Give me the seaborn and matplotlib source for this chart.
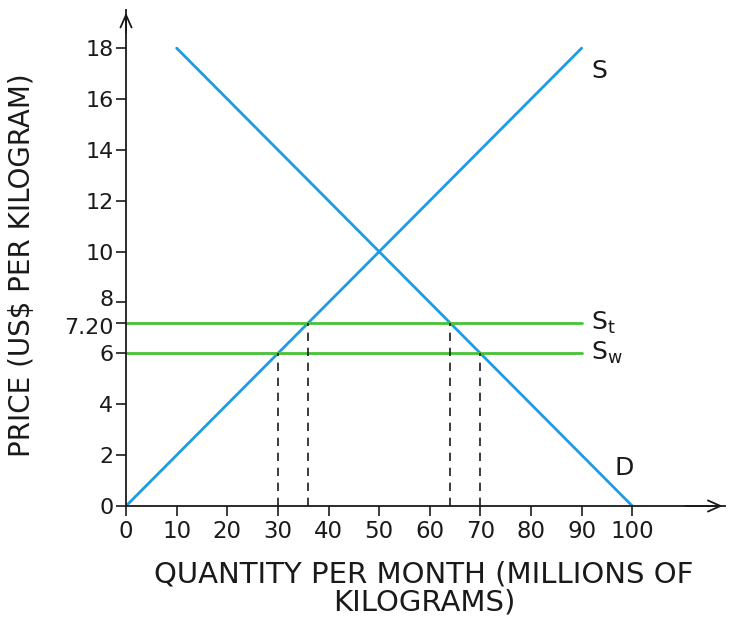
import pandas as pd
import matplotlib.pyplot as plt
import matplotlib.transforms as mtransforms
import seaborn as sns

# supply and demand end points
supply_q = [0, 90]
supply_p = [0, 18]
demand_q = [10, 100]
demand_p = [18, 0]

# world price and price with tariff
world_price = 6
tariff_price = 7.2
flat_q = [0, 90]

# quantities where the dashed guides drop
guide_q = [30, 36, 64, 70]
guide_p = [6, 7.2, 7.2, 6]

y_ticks = [0, 2, 4, 6, 7.2, 8, 10, 12, 14, 16, 18]
y_labels = ['0', '2', '4', '6', '7.20', '8', '10', '12', '14', '16', '18']
x_ticks = [0, 10, 20, 30, 40, 50, 60, 70, 80, 90, 100]

blue = '#1f9be6'
green = '#45c235'
ink = '#1a1a1a'

sns.set_style('white')
plt.rcParams['font.family'] = ['DejaVu Sans']
plt.rcParams['text.color'] = ink

fig = plt.figure(figsize=(7.31, 6.20), dpi=100)
ax = fig.add_axes([0.1724, 0.1839, 0.82, 0.80])

supply = pd.DataFrame({'q': supply_q, 'p': supply_p})
demand = pd.DataFrame({'q': demand_q, 'p': demand_p})
sns.lineplot(data=supply, x='q', y='p', color=blue, lw=2, ax=ax)
sns.lineplot(data=demand, x='q', y='p', color=blue, lw=2, ax=ax)
sns.lineplot(x=flat_q, y=[tariff_price] * 2, color=green, lw=2, ax=ax)
sns.lineplot(x=flat_q, y=[world_price] * 2, color=green, lw=2, ax=ax)

for q, p in zip(guide_q, guide_p):
    ax.plot([q, q], [0, p], color=ink, lw=1.2, ls=(0, (5, 4)))

ax.text(92, 17.1, 'S', fontsize=18, va='center', ha='left')
ax.text(96.5, 1.5, 'D', fontsize=18, va='center', ha='left')
ax.text(91.8, tariff_price, r'S$_\mathregular{t}$', fontsize=18, va='center', ha='left')
ax.text(91.8, world_price, r'S$_\mathregular{w}$', fontsize=18, va='center', ha='left')

ax.set_xlim(0, 118.4)
ax.set_ylim(0, 19.5)
ax.set_xticks(x_ticks)
ax.set_xticklabels([str(t) for t in x_ticks], fontsize=16.5, color=ink)
ax.set_yticks(y_ticks)
ax.set_yticklabels(y_labels, fontsize=16, color=ink)
ax.tick_params(axis='both', bottom=True, left=True, direction='out', length=7,
               width=1.2, color=ink, pad=2)
ax.tick_params(axis='x', pad=3)

# nudge the crowded 7.20 / 8 labels apart a little
for lab in ax.get_yticklabels():
    if lab.get_text() == '8':
        lab.set_transform(lab.get_transform() + mtransforms.ScaledTranslation(0, 3 / 72, fig.dpi_scale_trans))
    if lab.get_text() == '7.20':
        lab.set_transform(lab.get_transform() + mtransforms.ScaledTranslation(0, -2 / 72, fig.dpi_scale_trans))

for side in ['top', 'right']:
    ax.spines[side].set_visible(False)
for side in ['left', 'bottom']:
    ax.spines[side].set_color(ink)
    ax.spines[side].set_linewidth(1.3)

# open arrow heads on the axes
ax.annotate('', xy=(118.4, 0), xytext=(110, 0), annotation_clip=False,
            arrowprops=dict(arrowstyle='->,head_length=0.9,head_width=0.4', color=ink, lw=1.3))
ax.annotate('', xy=(0, 19.5), xytext=(0, 18.5), annotation_clip=False,
            arrowprops=dict(arrowstyle='->,head_length=0.9,head_width=0.4', color=ink, lw=1.3))

ax.set_xlabel('QUANTITY PER MONTH (MILLIONS OF\nKILOGRAMS)', fontsize=21, linespacing=1.0, color=ink)
ax.set_ylabel('PRICE (US$ PER KILOGRAM)', fontsize=20, color=ink)
ax.xaxis.set_label_coords(0.497, -0.11, transform=ax.transAxes)
ax.xaxis.label.set_va('top')
ax.yaxis.set_label_coords(-0.15, 0.486, transform=ax.transAxes)

fig.savefig('out.png', dpi=100)
